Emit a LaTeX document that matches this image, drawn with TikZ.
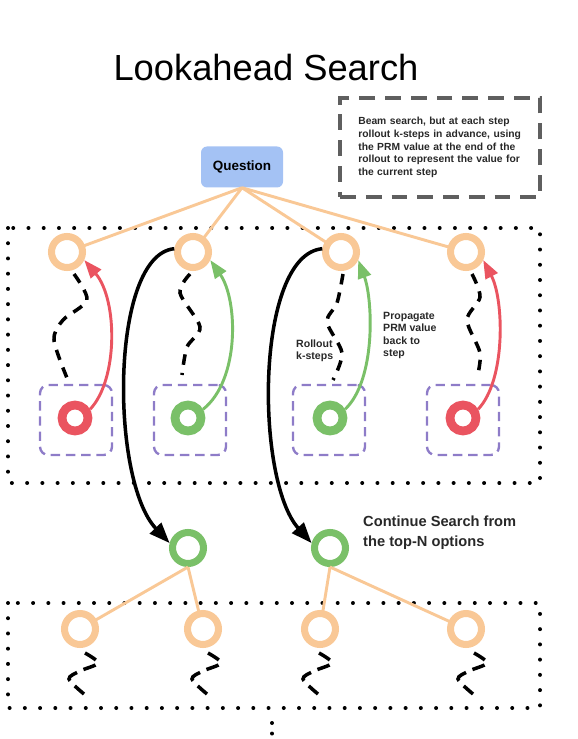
\documentclass[tikz,border=0pt]{standalone}
\usepackage{fontspec}
\setmainfont{Liberation Sans}
\usetikzlibrary{arrows.meta}
\definecolor{StepOrange}{RGB}{249,200,150}
\definecolor{PrmRed}{RGB}{234,84,96}
\definecolor{PrmGreen}{RGB}{122,192,104}
\definecolor{BoxPurple}{RGB}{142,124,200}
\definecolor{QBlue}{RGB}{164,194,244}
\definecolor{NoteGray}{RGB}{95,95,95}
\definecolor{TextGray}{RGB}{40,40,40}
\tikzset{
  ring/.style={circle,draw=StepOrange,fill=white,line width=6pt,minimum size=0.93cm,inner sep=0pt},
  hit/.style={ring,line width=7.5pt,minimum size=0.78cm},
  branch/.style={draw=StepOrange,line width=2.5pt},
  frame/.style={draw=black,line width=3.4pt,line cap=round,dash pattern=on 0pt off 13pt},
  cand/.style={draw=BoxPurple,line width=2pt,dash pattern=on 8pt off 5pt,rounded corners=0.25cm,
    minimum width=2.16cm,minimum height=2.1cm},
  rollout/.style={draw=black,line width=3pt,dash pattern=on 9pt off 7pt},
  tail/.style={draw=black,line width=3pt,dash pattern=on 11pt off 6pt},
  backup/.style={line width=2.5pt,-{Triangle[length=0.55cm,width=0.4cm]}},
  pick/.style={draw=black,line width=3pt,-{Triangle[length=0.62cm,width=0.46cm]}},
  lab/.style={font=\bfseries\fontsize{9}{10.6}\selectfont,text=TextGray,align=left,inner sep=0pt},
}
\tikzset{note/.style={draw=NoteGray,line width=3pt,dash pattern=on 13.5pt off 8.5pt,
    minimum width=6cm,minimum height=2.97cm,text width=4.9cm,inner xsep=0.5cm,align=left,
    font=\bfseries\fontsize{8.8}{10.8}\selectfont,text=TextGray},
  question/.style={fill=QBlue,rounded corners=0.18cm,minimum width=2.46cm,minimum height=1.23cm,
    font=\bfseries\fontsize{11.5}{13}\selectfont}}

\begin{document}
\begin{tikzpicture}[x=0.03cm,y=-0.03cm]
\useasboundingbox (0,0) rectangle (577,739);
% frames
\draw[frame] (8,228) rectangle (540,483);
\draw[frame] (8,603) rectangle (540,708);
\draw[frame,dash pattern=on 0pt off 9pt] (272,723) -- (272,734);
\node[font=\fontsize{31}{36}\selectfont] (title) at (266,68) {Lookahead Search};
\node[note] (desc) at (440,147.5) {Beam search, but at each step rollout k-steps in advance, using the PRM value at the end of the rollout to represent the value for the current step};
\node[question] (q) at (242,167) {Question};
% candidate boxes
\node[cand] (c1) at (76,420) {};
\node[cand] (c2) at (190,420) {};
\node[cand] (c3) at (329,420) {};
\node[cand] (c4) at (463,420) {};
% first step
\coordinate (t1p) at (67,252);
\coordinate (t2p) at (193,252);
\coordinate (t3p) at (341,252);
\coordinate (t4p) at (466,252);
\draw[branch] (q.south)--(t1p);
\draw[branch] (q.south)--(t2p);
\draw[branch] (q.south)--(t3p);
\draw[branch] (q.south)--(t4p);
\node[ring] (t1) at (t1p) {};
\node[ring] (t2) at (t2p) {};
\node[ring] (t3) at (t3p) {};
\node[ring] (t4) at (t4p) {};
\node[hit,draw=PrmRed] (b1) at (75,418) {};
\node[hit,draw=PrmGreen] (b2) at (188,418) {};
\node[hit,draw=PrmGreen] (b3) at (330,418) {};
\node[hit,draw=PrmRed] (b4) at (463,418) {};
% rollouts
\draw[rollout] plot[smooth] coordinates {(74,274) (87,300) (63,320) (54,340) (67,378)};
\draw[rollout] plot[smooth] coordinates {(190,274) (180,293) (200,327) (187,347) (182,375)};
\draw[rollout] plot[smooth] coordinates {(343,274) (337,303) (327,322) (342,353) (333,380)};
\draw[rollout] plot[smooth] coordinates {(472,274) (480,297) (467,320) (480,353) (477,378)};
% values going back up
\draw[backup,PrmRed] (b1.30) .. controls (118,380) and (118,300) .. (t1.-25);
\draw[backup,PrmGreen] (b2.30) .. controls (240,380) and (238,300) .. (t2.-25);
\draw[backup,PrmGreen] (b3.30) .. controls (376,380) and (373,300) .. (t3.-25);
\draw[backup,PrmRed] (b4.30) .. controls (506,380) and (504,300) .. (t4.-25);
\node[lab,anchor=west] (rl) at (296,351) {Rollout\\k-steps};
\node[lab,anchor=north west] (pl) at (383,312) {Propagate\\PRM value\\back to\\step};
% next step
\node[ring,draw=PrmGreen] (g1) at (188,548) {};
\node[ring,draw=PrmGreen] (g2) at (330,548) {};
\draw[pick] (t2.170) .. controls (110,255) and (110,480) .. (g1.165);
\draw[pick] (t3.170) .. controls (255,255) and (255,480) .. (g2.165);
\node[lab,font=\bfseries\fontsize{12.5}{17}\selectfont,anchor=west] (cs) at (363,533) {Continue Search from\\the top-N options};
\coordinate (l1p) at (80,629);
\coordinate (l2p) at (203,629);
\coordinate (l3p) at (320,629);
\coordinate (l4p) at (466,629);
\draw[branch] (g1.south)--(l1p);
\draw[branch] (g1.south)--(l2p);
\draw[branch] (g2.south)--(l3p);
\draw[branch] (g2.south)--(l4p);
\node[ring] (l1) at (l1p) {};
\node[ring] (l2) at (l2p) {};
\node[ring] (l3) at (l3p) {};
\node[ring] (l4) at (l4p) {};
\draw[tail] plot[smooth] coordinates {(85,653) (98,663) (80,671) (69,679) (84,694)};
\draw[tail] plot[smooth] coordinates {(208,653) (221,663) (203,671) (192,679) (207,694)};
\draw[tail] plot[smooth] coordinates {(319,653) (332,663) (314,671) (303,679) (318,694)};
\draw[tail] plot[smooth] coordinates {(474,653) (487,663) (469,671) (458,679) (473,694)};
\end{tikzpicture}
\end{document}
